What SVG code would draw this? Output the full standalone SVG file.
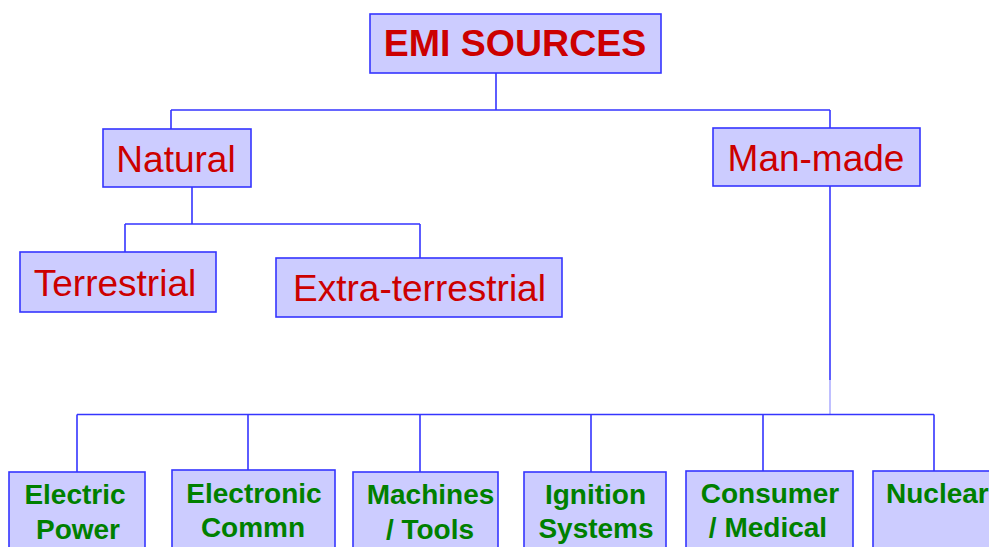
<svg xmlns="http://www.w3.org/2000/svg" width="989" height="547" viewBox="0 0 989 547">
  <style>
    .box { fill: #ccccff; stroke: #3535ff; stroke-width: 1.6; }
    .link { fill: none; stroke: #3535ff; stroke-width: 1.6; }
    .fade { fill: none; stroke: #b0b0ff; stroke-width: 1.6; }
    .top { font-family: "Liberation Sans", Arial, sans-serif; font-weight: bold; font-size: 37.5px; fill: #cc0000; text-anchor: middle; }
    .mid { font-family: "Liberation Sans", Arial, sans-serif; font-size: 37px; fill: #cc0000; text-anchor: middle; }
    .leaf { font-family: "Liberation Sans", Arial, sans-serif; font-weight: bold; font-size: 28px; fill: #008000; text-anchor: middle; }
  </style>
  <rect width="989" height="547" fill="#ffffff"/>

  <!-- tree connectors -->
  <g id="connectors">
    <path class="link" d="M496,73 V110 M171,110 H830 M171,110 V129 M830,110 V128"/>
    <path class="link" d="M192,187 V224 M125,224 H420 M125,224 V252 M420,224 V258"/>
    <path class="link" d="M830,186 V380"/>
    <path class="fade" d="M830,380 V414.5"/>
    <path class="link" d="M77,414.5 H934 M77,414.5 V472 M248,414.5 V470 M420,414.5 V472 M591,414.5 V472 M763,414.5 V471 M934,414.5 V471"/>
  </g>

  <g id="emi-sources">
    <rect class="box" x="370" y="14" width="291" height="59"/>
    <text class="top" x="515" y="56">EMI SOURCES</text>
  </g>

  <g id="natural">
    <rect class="box" x="103" y="129" width="148" height="58"/>
    <text class="mid" x="176" y="172">Natural</text>
  </g>

  <g id="man-made">
    <rect class="box" x="713" y="128" width="207" height="58"/>
    <text class="mid" x="816" y="171">Man-made</text>
  </g>

  <g id="terrestrial">
    <rect class="box" x="20" y="252" width="196" height="60"/>
    <text class="mid" x="115" y="296">Terrestrial</text>
  </g>

  <g id="extra-terrestrial">
    <rect class="box" x="276" y="258" width="286" height="59"/>
    <text class="mid" x="419.5" y="301">Extra-terrestrial</text>
  </g>

  <g id="electric-power">
    <rect class="box" x="9" y="472" width="136" height="90"/>
    <text class="leaf" x="75" y="504">Electric</text>
    <text class="leaf" x="78" y="539">Power</text>
  </g>

  <g id="electronic-commn">
    <rect class="box" x="172" y="470" width="163" height="92"/>
    <text class="leaf" x="254" y="503">Electronic</text>
    <text class="leaf" x="253" y="537">Commn</text>
  </g>

  <g id="machines-tools">
    <rect class="box" x="353" y="472" width="145" height="90"/>
    <text class="leaf" x="430.5" y="504">Machines</text>
    <text class="leaf" x="430" y="539">/ Tools</text>
  </g>

  <g id="ignition-systems">
    <rect class="box" x="524" y="472" width="142" height="90"/>
    <text class="leaf" x="595.5" y="504">Ignition</text>
    <text class="leaf" x="596" y="538">Systems</text>
  </g>

  <g id="consumer-medical">
    <rect class="box" x="686" y="471" width="167" height="91"/>
    <text class="leaf" x="770" y="503">Consumer</text>
    <text class="leaf" x="768" y="537">/ Medical</text>
  </g>

  <g id="nuclear">
    <rect class="box" x="873" y="471" width="130" height="91"/>
    <text class="leaf" x="886" y="503" style="text-anchor:start">Nuclear</text>
  </g>
</svg>
